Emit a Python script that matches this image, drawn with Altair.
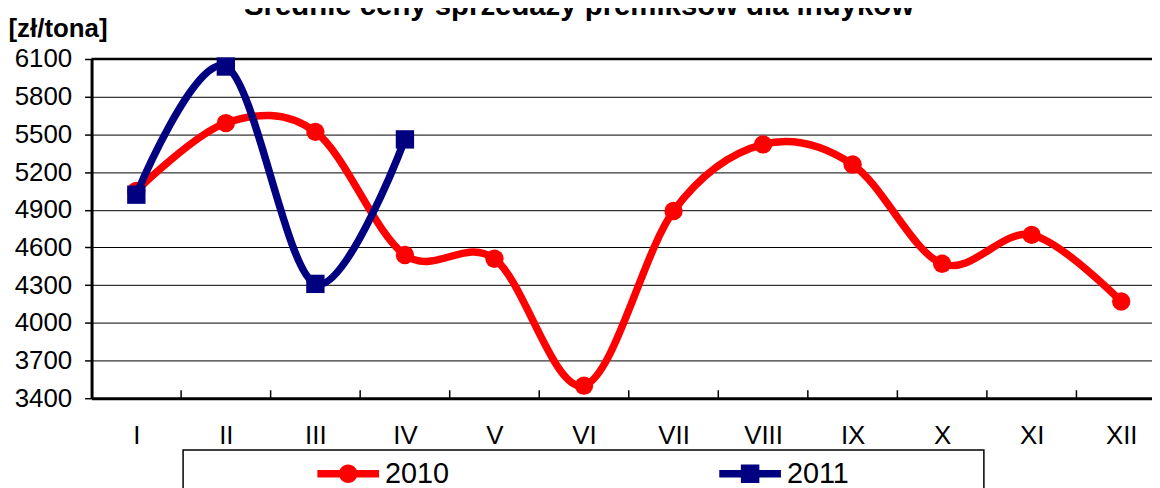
import altair as alt
import pandas as pd

# ---- data ----
months = ["I", "II", "III", "IV", "V", "VI", "VII", "VIII", "IX", "X", "XI", "XII"]
prices_2010 = [5050, 5590, 5520, 4540, 4510, 3500, 4890, 5420, 5260, 4470, 4700, 4170]
prices_2011 = [5020, 6040, 4310, 5460]
series_names = ["2010", "2011"]
series_colors = ["#FF0000", "#000080"]
y_ticks = [3400, 3700, 4000, 4300, 4600, 4900, 5200, 5500, 5800, 6100]
between_ticks = [1.5, 2.5, 3.5, 4.5, 5.5, 6.5, 7.5, 8.5, 9.5, 10.5, 11.5]
title_text = "Średnie ceny sprzedaży premiksów dla indyków"
unit_text = "[zł/tona]"

rows = []
for i, v in enumerate(prices_2010):
    rows.append({"m": i + 1, "series": series_names[0], "price": v})
for i, v in enumerate(prices_2011):
    rows.append({"m": i + 1, "series": series_names[1], "price": v})
df = pd.DataFrame(rows)
df_ticks = pd.DataFrame({"m": between_ticks})
df_top = pd.DataFrame({"price": [y_ticks[-1]]})
df_frame = pd.DataFrame({"k": [0]})
df_title = pd.DataFrame({"t": [title_text]})

W, H = 1066, 341
FONT = "Liberation Sans"

x_scale = alt.Scale(domain=[0.5, 12.344], nice=False, zero=False)
y_scale = alt.Scale(domain=[y_ticks[0], y_ticks[-1]], nice=False, zero=False)
color_scale = alt.Scale(domain=series_names, range=series_colors)

label_expr = "[" + ",".join("'%s'" % m for m in months) + "][datum.value - 1]"

x_axis = alt.Axis(values=list(range(1, 13)), labelExpr=label_expr, ticks=False, grid=False,
                  domainColor="black", domainWidth=3, labelFont=FONT, labelFontSize=26,
                  labelColor="black", labelPadding=25, title=None, labelFlush=False)
y_axis = alt.Axis(values=y_ticks, format="d", grid=True, gridColor="black", gridWidth=1,
                  domainColor="black", domainWidth=3, tickColor="black", tickSize=7,
                  tickWidth=1.5, labelFont=FONT, labelFontSize=26, labelColor="black",
                  labelPadding=13, title=unit_text, titleAngle=0, titleAlign="left",
                  titleBaseline="alphabetic", titleX=-84, titleY=-23, titleFont=FONT,
                  titleFontSize=26, titleFontWeight="bold", titleColor="black")

X = alt.X("m:Q", scale=x_scale, axis=x_axis)
Y = alt.Y("price:Q", scale=y_scale, axis=y_axis)

path_circle = ("M-1,-0.12L1,-0.12L1,0.12L-1,0.12Z "
               "M-0.3,0A0.3,0.3,0,1,1,0.3,0A0.3,0.3,0,1,1,-0.3,0Z")
path_square = ("M-1,-0.12L1,-0.12L1,0.12L-1,0.12Z "
               "M-0.3,-0.3L0.3,-0.3L0.3,0.3L-0.3,0.3Z")

legend = alt.Legend(orient="none", legendX=227, legendY=386, direction="horizontal",
                    columns=2, columnPadding=271, title=None, labelFont=FONT,
                    labelFontSize=29, labelColor="black", labelOffset=6,
                    symbolSize=3844, symbolStrokeWidth=0, symbolOpacity=1, padding=0)

base = alt.Chart(df)
f2010 = alt.datum.series == series_names[0]
f2011 = alt.datum.series == series_names[1]

line_2010 = base.transform_filter(f2010).mark_line(
    interpolate="cardinal", strokeWidth=7.5, strokeCap="round", color=series_colors[0]).encode(x=X, y=Y)
pts_2010 = base.transform_filter(f2010).mark_circle(
    size=340, opacity=1, color=series_colors[0]).encode(x=X, y=Y)
line_2011 = base.transform_filter(f2011).mark_line(
    interpolate="cardinal", strokeWidth=7.5, strokeCap="round", color=series_colors[1]).encode(x=X, y=Y)
pts_2011 = base.transform_filter(f2011).mark_square(
    size=340, opacity=1, color=series_colors[1]).encode(x=X, y=Y)

# invisible (size 0) layer that only carries the legend
legend_layer = base.mark_point(filled=True, size=0, strokeWidth=0, opacity=1).encode(
    x=X, y=Y,
    color=alt.Color("series:N", scale=color_scale, legend=legend),
    shape=alt.Shape("series:N", scale=alt.Scale(domain=series_names, range=[path_circle, path_square]),
                    legend=legend),
)

top_border = alt.Chart(df_top).mark_rule(color="black", strokeWidth=2.5).encode(y=Y)
inner_ticks = alt.Chart(df_ticks).mark_rule(color="black", strokeWidth=1.5).encode(
    x=X, y=alt.value(H), y2=alt.value(H - 8))
frame = alt.Chart(df_frame).mark_rect(fill=None, stroke="black", strokeWidth=1.5).encode(
    x=alt.value(92), x2=alt.value(897), y=alt.value(393), y2=alt.value(440))
title_mark = alt.Chart(df_title).mark_text(
    font=FONT, fontSize=29.5, fontWeight="bold", color="black", align="center",
    baseline="alphabetic").encode(text="t:N", x=alt.value(490), y=alt.value(-44))

chart = alt.layer(
    top_border, inner_ticks, frame, line_2010, pts_2010, line_2011, pts_2011, legend_layer, title_mark
).properties(
    width=W, height=H,
    autosize=alt.AutoSizeParams(type="none"),
    padding={"left": 84, "top": 50, "right": 0, "bottom": 89},
).configure_view(stroke=None).configure(background="white")

chart.save("out.html", embed_options={"renderer": "svg", "actions": False})
